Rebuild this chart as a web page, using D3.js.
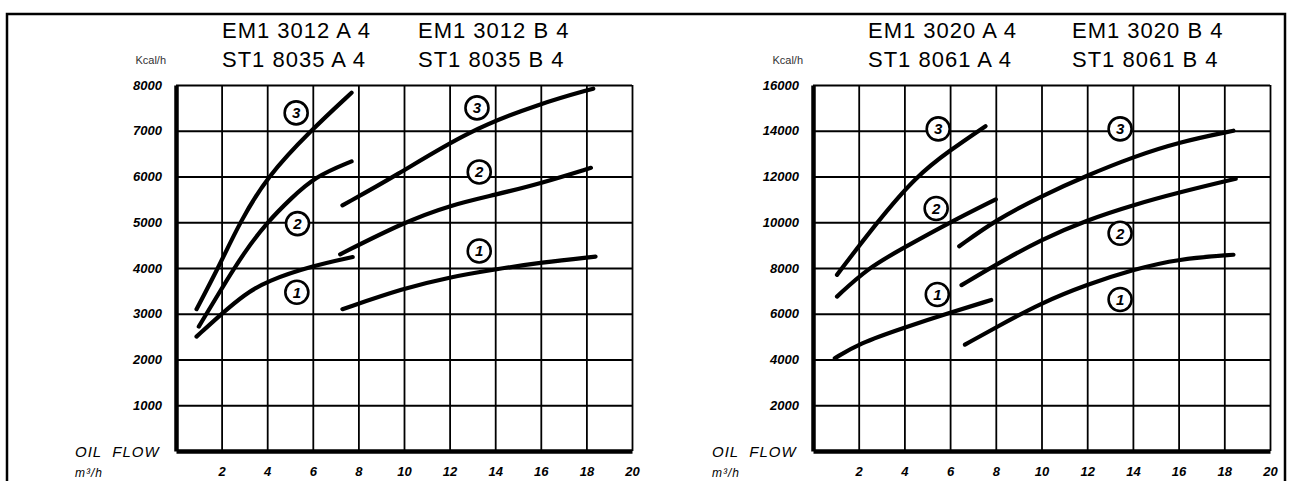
<html>
<head>
<meta charset="utf-8">
<script src="https://d3js.org/d3.v7.min.js"></script>
<style>
  body { margin: 0; background: #fff; }
  svg { display: block; }
  .tick line { stroke: #000; stroke-width: 1.8; }
  .tick text { font-family: "Liberation Sans", Arial, sans-serif; font-weight: bold; font-style: italic; font-size: 13px; fill: #000; }
</style>
</head>
<body>
<script>
// ---- data (x = m3/h, y = Kcal/h) ----
const xTicks = [2, 4, 6, 8, 10, 12, 14, 16, 18, 20];
const leftYTicks = [1000, 2000, 3000, 4000, 5000, 6000, 7000, 8000];
const rightYTicks = [2000, 4000, 6000, 8000, 10000, 12000, 14000, 16000];

const leftTitlesA = ["EM1 3012 A 4", "ST1 8035 A 4"];
const leftTitlesB = ["EM1 3012 B 4", "ST1 8035 B 4"];
const rightTitlesA = ["EM1 3020 A 4", "ST1 8061 A 4"];
const rightTitlesB = ["EM1 3020 B 4", "ST1 8061 B 4"];

const leftA1 = [[0.9, 2500], [2, 3000], [3, 3420], [4, 3720], [6, 4050], [7.75, 4240]];
const leftA2 = [[1.0, 2720], [2, 3550], [3, 4350], [4, 5000], [5, 5500], [6.1, 6000], [7.7, 6330]];
const leftA3 = [[0.9, 3100], [1.9, 4050], [2.8, 5000], [4, 6000], [5.9, 7000], [7.7, 7830]];
const leftB1 = [[7.3, 3100], [10, 3560], [12, 3800], [14, 3970], [16, 4120], [18.4, 4250]];
const leftB2 = [[7.2, 4300], [10, 5000], [12, 5370], [14, 5600], [16, 5850], [18.2, 6190]];
const leftB3 = [[7.3, 5370], [9.6, 6000], [12.8, 7000], [16, 7600], [18.3, 7920]];

const rightA1 = [[0.95, 4050], [2, 4700], [4, 5400], [6, 6050], [7.8, 6600]];
const rightA2 = [[1.05, 6750], [2.4, 8000], [4, 8900], [6, 10000], [8, 11000]];
const rightA3 = [[1.05, 7700], [2.8, 10000], [4.5, 12000], [6, 13150], [7.55, 14200]];
const rightB1 = [[6.65, 4650], [8, 5400], [10, 6480], [12, 7280], [14, 7930], [16, 8400], [18.4, 8580]];
const rightB2 = [[6.5, 7250], [8, 8150], [10, 9250], [12, 10100], [14, 10750], [16, 11300], [18.5, 11900]];
const rightB3 = [[6.4, 8950], [8, 10100], [10, 11150], [12, 12050], [14, 12850], [16, 13500], [18.4, 14000]];

// circled curve numbers: [number, x, y]
const leftMarks = [[1, 5.3, 3470], [2, 5.33, 4970], [3, 5.27, 7390], [1, 13.3, 4370], [2, 13.3, 6100], [3, 13.2, 7500]];
const rightMarks = [[1, 5.44, 6840], [2, 5.39, 10600], [3, 5.48, 14080], [1, 13.44, 6620], [2, 13.44, 9520], [3, 13.44, 14080]];

// ---- layout ----
const W = 1292, H = 481;
const plotTop = 85, plotBottom = 451;

const svg = d3.select("body").append("svg").attr("width", W).attr("height", H);

// outer frame
svg.append("path")
  .attr("d", "M7," + H + "V14H1285V" + H)
  .attr("fill", "none").attr("stroke", "#000").attr("stroke-width", 2.5);

// the scan cuts the left "20" label
svg.append("clipPath").attr("id", "leftclip")
  .append("rect").attr("x", 0).attr("y", -H).attr("width", 641).attr("height", 2 * H);

function panel(opt) {
  const x = d3.scaleLinear().domain([0, 20]).range([opt.x0, opt.x1]);
  const y = d3.scaleLinear().domain([0, opt.yMax]).range([plotBottom, plotTop]);
  const g = svg.append("g");

  // grid + y labels
  const ya = g.append("g").attr("transform", "translate(" + opt.x0 + ",0)")
    .call(d3.axisLeft(y).tickValues(opt.yTicks).tickSize(-(opt.x1 - opt.x0)).tickSizeOuter(0).tickPadding(14).tickFormat(d3.format("d")));
  ya.select(".domain").attr("stroke", "#000").attr("stroke-width", 4.5);

  const xa = g.append("g").attr("transform", "translate(0," + plotBottom + ")")
    .call(d3.axisBottom(x).tickValues(xTicks).tickSize(-(plotBottom - plotTop)).tickSizeOuter(0).tickPadding(16));
  xa.select(".domain").attr("stroke", "#000").attr("stroke-width", 4.5);
  if (opt.clip) xa.attr("clip-path", "url(#" + opt.clip + ")");

  // curves
  const line = d3.line().x(d => x(d[0])).y(d => y(d[1])).curve(d3.curveBasis);
  g.selectAll(".curve").data(opt.curves).join("path")
    .attr("class", "curve")
    .attr("d", line)
    .attr("fill", "none").attr("stroke", "#000")
    .attr("stroke-width", 4.2).attr("stroke-linecap", "round");

  // circled numbers
  const m = g.selectAll(".mark").data(opt.marks).join("g")
    .attr("class", "mark")
    .attr("transform", d => "translate(" + x(d[1]) + "," + y(d[2]) + ")");
  m.append("circle").attr("r", 11.5).attr("fill", "#fff").attr("stroke", "#000").attr("stroke-width", 2.6);
  m.append("text").text(d => d[0])
    .attr("text-anchor", "middle").attr("dy", "0.36em")
    .attr("font-family", "Liberation Sans, Arial, sans-serif")
    .attr("font-weight", "bold").attr("font-style", "italic").attr("font-size", 15);

  // titles
  const tf = "Liberation Sans, Arial, sans-serif";
  [[opt.titlesA, opt.tA], [opt.titlesB, opt.tB]].forEach(([t, tx]) => {
    g.append("text").text(t[0]).attr("x", tx).attr("y", 37.5)
      .attr("font-family", tf).attr("font-size", 22).attr("letter-spacing", 1);
    g.append("text").text(t[1]).attr("x", tx).attr("y", 67)
      .attr("font-family", tf).attr("font-size", 22).attr("letter-spacing", 1);
  });

  g.append("text").text("Kcal/h").attr("x", opt.x0 - 10).attr("y", 64)
    .attr("text-anchor", "end").attr("font-family", tf).attr("font-size", 11).attr("fill", "#333");

  g.append("text").text("OIL  FLOW").attr("x", opt.x0 - 101).attr("y", 457)
    .attr("font-family", tf).attr("font-style", "italic").attr("font-size", 15)
    .attr("letter-spacing", 1).attr("xml:space", "preserve");
  g.append("text").text("m³/h").attr("x", opt.x0 - 101).attr("y", 477)
    .attr("font-family", tf).attr("font-style", "italic").attr("font-size", 12).attr("letter-spacing", 1);
}

panel({
  x0: 176, x1: 632, yMax: 8000, yTicks: leftYTicks, clip: "leftclip",
  curves: [leftA1, leftA2, leftA3, leftB1, leftB2, leftB3], marks: leftMarks,
  titlesA: leftTitlesA, titlesB: leftTitlesB, tA: 222, tB: 418
});
panel({
  x0: 813, x1: 1270, yMax: 16000, yTicks: rightYTicks,
  curves: [rightA1, rightA2, rightA3, rightB1, rightB2, rightB3], marks: rightMarks,
  titlesA: rightTitlesA, titlesB: rightTitlesB, tA: 868, tB: 1072
});
</script>
</body>
</html>
